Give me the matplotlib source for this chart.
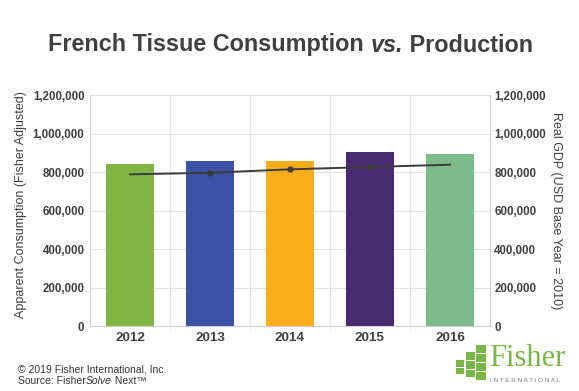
import matplotlib
matplotlib.use('Agg')
import matplotlib.pyplot as plt
from matplotlib.ticker import FuncFormatter
from matplotlib.patches import Rectangle

# data
years = ['2012', '2013', '2014', '2015', '2016']
consumption = [840000, 855000, 858000, 905000, 895000]
gdp = [788000, 796000, 814000, 826000, 838000]
bar_colors = ['#80b443', '#3a53a4', '#fbad1b', '#482a6e', '#7dbb8a']

plt.rcParams['font.family'] = ['Liberation Sans', 'DejaVu Sans']
text_col = '#404040'
grid_col = '#e3e3e3'

fig = plt.figure(figsize=(5.79, 3.91), dpi=100)
ax = fig.add_axes([0.1554, 0.1662, 0.6909, 0.5908])
ax2 = ax.twinx()

x = list(range(len(years)))
ax.bar(x, consumption, width=0.6, color=bar_colors, zorder=2)
ax2.plot(x, gdp, color='#3c3c3c', lw=1.4, marker='o', ms=3.5,
         markevery=[1, 2, 3], zorder=3)

for a in (ax, ax2):
    a.set_ylim(0, 1200000)
    a.set_yticks(range(0, 1200001, 200000))
    a.yaxis.set_major_formatter(FuncFormatter(lambda v, p: f'{int(v):,}'))
    a.tick_params(axis='y', length=0, labelsize=8.3, labelcolor=text_col, pad=4)
    for lab in a.get_yticklabels():
        lab.set_fontweight('bold')
    for s in a.spines.values():
        s.set_visible(False)
ax2.tick_params(axis='y', pad=3)

ax.set_xlim(-0.5, 4.5)
ax.set_xticks(x)
ax.set_xticklabels(years, fontsize=9.7, fontweight='bold', color=text_col)
ax.set_xticks([0.5, 1.5, 2.5, 3.5], minor=True)
ax.tick_params(axis='x', which='major', length=0, pad=4)
ax.tick_params(axis='x', which='minor', length=3, color=grid_col)

ax.grid(axis='y', color=grid_col, lw=0.8, zorder=0)
ax.grid(axis='x', which='minor', color=grid_col, lw=0.8, zorder=0)
ax.set_axisbelow(True)
ax.spines['left'].set_visible(True)
ax.spines['left'].set_color('#d0d0d0')
ax.spines['bottom'].set_visible(True)
ax.spines['bottom'].set_color('#d0d0d0')
ax2.spines['right'].set_visible(True)
ax2.spines['right'].set_color('#d0d0d0')

fig.text(21 / 579, 1 - 205 / 391, 'Apparent Consumption (Fisher Adjusted)',
         rotation=90, ha='center', va='center', fontsize=9.0, color=text_col)
fig.text(556 / 579, 1 - 211 / 391, 'Real GDP (USD Base Year = 2010)',
         rotation=-90, ha='center', va='center', fontsize=9.0, color=text_col)

# title with italic "vs."
fig.canvas.draw()
renderer = fig.canvas.get_renderer()
parts = [('French Tissue Consumption ', 'normal'), ('vs.', 'italic'), (' Production', 'normal')]
texts = []
for s, style in parts:
    t = fig.text(0, 1 - 45 / 391, s, fontsize=16.8, fontweight='bold', style=style,
                 color=text_col, ha='left', va='center')
    texts.append(t)
widths = [t.get_window_extent(renderer).width for t in texts]
xpos = (579 - sum(widths)) / 2 + 1
for t, w in zip(texts, widths):
    t.set_x(xpos / 579)
    xpos += w

# footer
fig.text(18 / 579, 1 - 370 / 391, '\u00a9 2019 Fisher International, Inc.',
         fontsize=7.5, color='#333333', va='center')
src = [('Source: Fisher', 'normal'), ('Solve', 'italic'), (' Next\u2122', 'normal')]
xpos = 18
for s, style in src:
    t = fig.text(xpos / 579, 1 - 381 / 391, s, fontsize=7.5, style=style,
                 color='#333333', va='center')
    xpos += t.get_window_extent(renderer).width

# logo
logo_green = '#7ab648'
for (lx, ly, lw, lh) in [(476, 345, 10, 8), (466, 352, 9, 8), (476, 354, 10, 8),
                         (456, 360, 8, 7), (466, 361, 9, 8), (476, 363, 10, 8),
                         (456, 368, 8, 6), (466, 370, 9, 7), (476, 372, 10, 8)]:
    fig.patches.append(Rectangle((lx / 579, 1 - (ly + lh) / 391), lw / 579, lh / 391,
                                 transform=fig.transFigure, color=logo_green, lw=0))
fig.text(489 / 579, 1 - 359 / 391, 'Fisher', fontsize=22, family='Liberation Serif',
         color=logo_green, va='center')
fig.text(490 / 579, 1 - 381 / 391, 'I N T E R N A T I O N A L', fontsize=4.6,
         color='#7a7a7a', va='center')

fig.savefig('out.png', dpi=100)
